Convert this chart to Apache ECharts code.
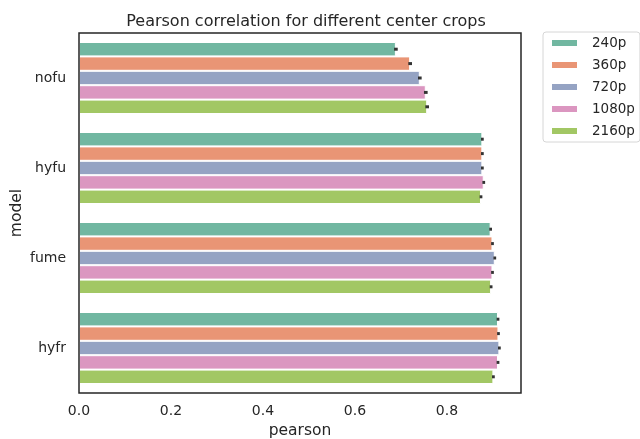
<!DOCTYPE html>
<html>
<head>
<meta charset="utf-8">
<script src="https://cdn.jsdelivr.net/npm/echarts@6/dist/echarts.min.js"></script>
<style>
  html, body { margin: 0; padding: 0; background: #fff; }
  #chart { width: 640px; height: 439px; }
</style>
</head>
<body>
<div id="chart"></div>
<script>
// data
const models = ['nofu', 'hyfu', 'fume', 'hyfr']
const crops = ['240p', '360p', '720p', '1080p', '2160p']
const p240 = [0.689, 0.877, 0.895, 0.911]
const p360 = [0.720, 0.877, 0.899, 0.912]
const p720 = [0.741, 0.877, 0.904, 0.914]
const p1080 = [0.754, 0.880, 0.899, 0.911]
const p2160 = [0.757, 0.874, 0.896, 0.901]
const err = [0.004, 0.003, 0.003, 0.003]

const values = [p240, p360, p720, p1080, p2160]
const colors = ['#71b7a1', '#e99575', '#95a3c3', '#db96c0', '#a2c764']

const chart = echarts.init(document.getElementById('chart'))

const textColor = '#262626'
const font = 'DejaVu Sans'

const barSeries = crops.map((name, i) => ({
  name,
  type: 'bar',
  data: values[i],
  barGap: '0%',
  barCategoryGap: '20%',
  itemStyle: { color: colors[i], borderColor: '#fff', borderWidth: 1 },
  silent: true
}))

// small black error bars, placed at each bar's centre
const errSeries = crops.map((name, i) => ({
  type: 'custom',
  silent: true,
  z: 5,
  data: values[i].map((v, j) => [j, v - err[j], v + err[j]]),
  renderItem(params, api) {
    const band = api.size([0, 1])[1]
    const w = band * 0.8 / crops.length
    const off = -band * 0.4 + w * (i + 0.5)
    const a = api.coord([api.value(1), api.value(0)])
    const b = api.coord([api.value(2), api.value(0)])
    return {
      type: 'line',
      shape: { x1: a[0], y1: a[1] + off, x2: b[0], y2: b[1] + off },
      style: { stroke: '#333', lineWidth: 3 }
    }
  },
  encode: { x: [1, 2], y: 0 }
}))

chart.setOption({
  animation: false,
  textStyle: { fontFamily: font },
  title: {
    text: 'Pearson correlation for different center crops',
    left: 301, top: 9, textAlign: 'center',
    textStyle: { fontFamily: font, fontSize: 16, fontWeight: 'normal', color: textColor }
  },
  legend: {
    data: crops,
    orient: 'vertical',
    left: 543, top: 32,
    padding: [4, 5, 4, 7],
    itemWidth: 27, itemHeight: 8, itemGap: 8,
    borderColor: '#d6d6d6', borderWidth: 1, borderRadius: 3,
    textStyle: { fontFamily: font, fontSize: 13.5, color: textColor, padding: [0, 0, 0, 9] },
    icon: 'rect'
  },
  // frame drawn above the bars so the white bar edges don't cut the left spine
  grid: {
    left: 79, right: 119, top: 33, bottom: 46,
    outerBoundsMode: 'none',
    z: 10,
    show: true, borderColor: '#262626', borderWidth: 1.5, backgroundColor: 'transparent'
  },
  xAxis: {
    type: 'value',
    min: 0, max: 0.961, interval: 0.2,
    name: 'pearson', nameLocation: 'middle', nameGap: 27,
    nameTextStyle: { fontFamily: font, fontSize: 15.5, color: textColor },
    axisLine: { show: false }, axisTick: { show: false },
    splitLine: { show: false },
    axisLabel: {
      fontFamily: font, fontSize: 14, color: textColor, margin: 11,
      showMaxLabel: false,
      formatter: v => v.toFixed(1)
    }
  },
  yAxis: {
    type: 'category',
    data: models,
    inverse: true,
    name: 'model', nameLocation: 'middle', nameGap: 54, nameRotate: 90,
    nameMoveOverlap: false,
    nameTextStyle: { fontFamily: font, fontSize: 15.5, color: textColor },
    axisLine: { show: false },
    axisTick: { show: false },
    splitLine: { show: false },
    axisLabel: { fontFamily: font, fontSize: 14, color: textColor, margin: 13 }
  },
  series: barSeries.concat(errSeries)
})
</script>
</body>
</html>
